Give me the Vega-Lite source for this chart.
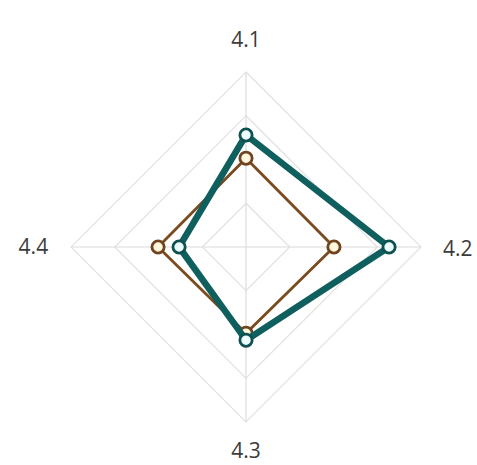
{
  "$schema": "https://vega.github.io/schema/vega-lite/v6.json",
  "width": 477,
  "height": 465,
  "padding": 0,
  "autosize": "none",
  "background": "white",
  "config": {"view": {"stroke": null}},
  "datasets": {
    "grid": [
      {"level": 1, "idx": 0}, {"level": 1, "idx": 1}, {"level": 1, "idx": 2}, {"level": 1, "idx": 3},
      {"level": 2, "idx": 0}, {"level": 2, "idx": 1}, {"level": 2, "idx": 2}, {"level": 2, "idx": 3},
      {"level": 3, "idx": 0}, {"level": 3, "idx": 1}, {"level": 3, "idx": 2}, {"level": 3, "idx": 3},
      {"level": 4, "idx": 0}, {"level": 4, "idx": 1}, {"level": 4, "idx": 2}, {"level": 4, "idx": 3}
    ],
    "axes": [
      {"axis": "4.1", "idx": 0, "lx": 0, "ly": 4.72},
      {"axis": "4.2", "idx": 1, "lx": 4.84, "ly": -0.06},
      {"axis": "4.3", "idx": 2, "lx": 0, "ly": -4.68},
      {"axis": "4.4", "idx": 3, "lx": -4.86, "ly": -0.02}
    ],
    "series": [
      {"series": "B", "axis": "4.1", "idx": 0, "value": 2.03},
      {"series": "B", "axis": "4.2", "idx": 1, "value": 2.01},
      {"series": "B", "axis": "4.3", "idx": 2, "value": 1.97},
      {"series": "B", "axis": "4.4", "idx": 3, "value": 2.01},
      {"series": "A", "axis": "4.1", "idx": 0, "value": 2.56},
      {"series": "A", "axis": "4.2", "idx": 1, "value": 3.27},
      {"series": "A", "axis": "4.3", "idx": 2, "value": 2.13},
      {"series": "A", "axis": "4.4", "idx": 3, "value": 1.53}
    ]
  },
  "encoding": {
    "x": {"field": "x", "type": "quantitative", "axis": null, "scale": {"domain": [-5.623, 5.28], "zero": false, "nice": false}},
    "y": {"field": "y", "type": "quantitative", "axis": null, "scale": {"domain": [-4.983, 5.646], "zero": false, "nice": false}}
  },
  "layer": [
    {
      "data": {"name": "grid"},
      "transform": [
        {"calculate": "round(datum.level * sin(datum.idx * PI / 2) * 1000) / 1000", "as": "x"},
        {"calculate": "round(datum.level * cos(datum.idx * PI / 2) * 1000) / 1000", "as": "y"}
      ],
      "mark": {"type": "line", "interpolate": "linear-closed", "stroke": "#e2e2e2", "strokeWidth": 1.2},
      "encoding": {
        "detail": {"field": "level", "type": "nominal"},
        "order": {"field": "idx", "type": "quantitative"}
      }
    },
    {
      "data": {"name": "axes"},
      "transform": [
        {"calculate": "round(4 * sin(datum.idx * PI / 2) * 1000) / 1000", "as": "x"},
        {"calculate": "round(4 * cos(datum.idx * PI / 2) * 1000) / 1000", "as": "y"}
      ],
      "mark": {"type": "rule", "stroke": "#dcdcdc", "strokeWidth": 1.2},
      "encoding": {
        "x": {"datum": 0, "type": "quantitative"},
        "y": {"datum": 0, "type": "quantitative"},
        "x2": {"field": "x"},
        "y2": {"field": "y"}
      }
    },
    {
      "data": {"name": "series"},
      "transform": [
        {"filter": "datum.series === 'B'"},
        {"calculate": "datum.value * sin(datum.idx * PI / 2)", "as": "x"},
        {"calculate": "datum.value * cos(datum.idx * PI / 2)", "as": "y"}
      ],
      "mark": {"type": "line", "interpolate": "linear-closed", "stroke": "#7a4b1e", "strokeWidth": 2.8},
      "encoding": {"order": {"field": "idx", "type": "quantitative"}}
    },
    {
      "data": {"name": "series"},
      "transform": [
        {"filter": "datum.series === 'B'"},
        {"calculate": "datum.value * sin(datum.idx * PI / 2)", "as": "x"},
        {"calculate": "datum.value * cos(datum.idx * PI / 2)", "as": "y"}
      ],
      "mark": {"type": "point", "filled": true, "fill": "#fff6dd", "stroke": "#6e4520", "strokeWidth": 2.8, "size": 150, "opacity": 1}
    },
    {
      "data": {"name": "series"},
      "transform": [
        {"filter": "datum.series === 'A'"},
        {"calculate": "datum.value * sin(datum.idx * PI / 2)", "as": "x"},
        {"calculate": "datum.value * cos(datum.idx * PI / 2)", "as": "y"}
      ],
      "mark": {"type": "line", "interpolate": "linear-closed", "stroke": "#0f5f5e", "strokeWidth": 6.5, "strokeJoin": "round"},
      "encoding": {"order": {"field": "idx", "type": "quantitative"}}
    },
    {
      "data": {"name": "series"},
      "transform": [
        {"filter": "datum.series === 'A'"},
        {"calculate": "datum.value * sin(datum.idx * PI / 2)", "as": "x"},
        {"calculate": "datum.value * cos(datum.idx * PI / 2)", "as": "y"}
      ],
      "mark": {"type": "point", "filled": true, "fill": "#eafcfc", "stroke": "#0f5050", "strokeWidth": 2.8, "size": 150, "opacity": 1}
    },
    {
      "data": {"name": "axes"},
      "mark": {"type": "text", "font": "Open Sans", "fontSize": 21, "fill": "#3c3c3c", "align": "center", "baseline": "middle"},
      "encoding": {
        "x": {"field": "lx", "type": "quantitative"},
        "y": {"field": "ly", "type": "quantitative"},
        "text": {"field": "axis", "type": "nominal"}
      }
    }
  ]
}
